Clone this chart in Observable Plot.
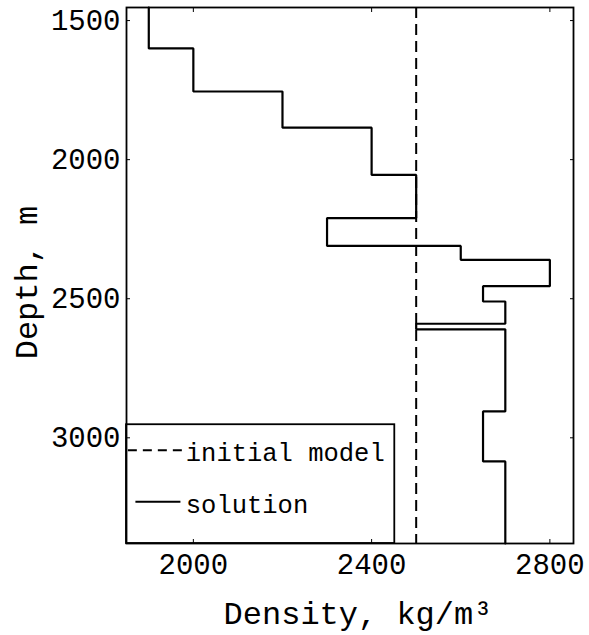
<!DOCTYPE html>
<html><head><meta charset="utf-8">
<script src="https://cdn.jsdelivr.net/npm/d3@7"></script>
<script src="https://cdn.jsdelivr.net/npm/@observablehq/plot@0.6"></script>
<style>body{margin:0;background:#fff}</style>
</head><body><div id="chart"></div>
<script>
// Layer boundaries (depth, m) and the solution density of each layer (kg/m^3)
const layerBounds = [1453, 1600, 1755, 1885, 2055, 2210, 2310, 2360, 2455, 2510, 2590, 2610, 2905, 3085, 3380];
const solutionDensity = [1900, 2000, 2200, 2400, 2500, 2300, 2600, 2800, 2650, 2700, 2500, 2700, 2650, 2700];
const initialDensity = [2500];
const xTicks = [2000, 2400, 2800];
const yTicks = [1500, 2000, 2500, 3000];
const legendLabels = ["initial model", "solution"];
const xLabel = "Density, kg/m³";
const yLabel = "Depth, m";

const xDomain = [1850, 2853];
const yDomain = [layerBounds[0], layerBounds[layerBounds.length - 1]];

const solutionPts = solutionDensity.flatMap((d, i) => [
  {x: d, y: layerBounds[i]},
  {x: d, y: layerBounds[i + 1]}
]);

// legend placement in data units (box anchored at bottom-left of frame)
const legX2 = 2452, legY1 = 2953;
const rowDepth = [3045, 3230];
const legend = legendLabels.map((label, i) => ({label, y: rowDepth[i]}));

const font = "'Liberation Mono', 'Courier New', 'DejaVu Sans Mono', monospace";

const chart = Plot.plot({
  width: 589, height: 635,
  marginLeft: 126, marginRight: 16, marginTop: 7, marginBottom: 92,
  style: {fontFamily: font, background: "white", color: "black", overflow: "visible"},
  x: {domain: xDomain},
  y: {domain: yDomain, reverse: true},
  marks: [
    Plot.ruleX(initialDensity, {stroke: "black", strokeWidth: 2, strokeDasharray: "11,6"}),
    Plot.line(solutionPts, {x: "x", y: "y", stroke: "black", strokeWidth: 2.2, strokeLinejoin: "miter"}),
    // legend box
    Plot.rect([0], {x1: xDomain[0], x2: legX2, y1: legY1, y2: yDomain[1], fill: "white", stroke: "black", strokeWidth: 1.8}),
    Plot.link([legend[0]], {x1: 1853, x2: 1978, y1: "y", y2: "y", stroke: "black", strokeWidth: 2, strokeDasharray: "9,6"}),
    Plot.link([legend[1]], {x1: 1870, x2: 1971, y1: "y", y2: "y", stroke: "black", strokeWidth: 2}),
    Plot.text(legend, {x: 1983, y: "y", text: "label", textAnchor: "start", fontSize: 25.5, fill: "black", dy: 3}),
    Plot.frame({stroke: "black", strokeWidth: 1.8}),
    Plot.axisX(xTicks, {anchor: "bottom", tickSize: -4, tickPadding: 14, fontSize: 29, tickFormat: "d", label: null}),
    Plot.axisX(xTicks, {anchor: "top", tickSize: -4, tickFormat: () => "", label: null}),
    Plot.axisY(yTicks, {anchor: "left", tickSize: -4, tickPadding: 10, fontSize: 29, tickFormat: "d", label: null}),
    Plot.axisY(yTicks, {anchor: "right", tickSize: -4, tickFormat: () => "", label: null}),
    Plot.text([xLabel], {frameAnchor: "bottom", textAnchor: "middle", lineAnchor: "middle", dx: 8, dy: 70, fontSize: 32, fill: "black"}),
    Plot.text([yLabel], {frameAnchor: "left", textAnchor: "middle", lineAnchor: "middle", dx: -100, dy: 7, rotate: -90, fontSize: 32, fill: "black"})
  ]
});
document.getElementById("chart").appendChild(chart);
</script>
</body></html>
